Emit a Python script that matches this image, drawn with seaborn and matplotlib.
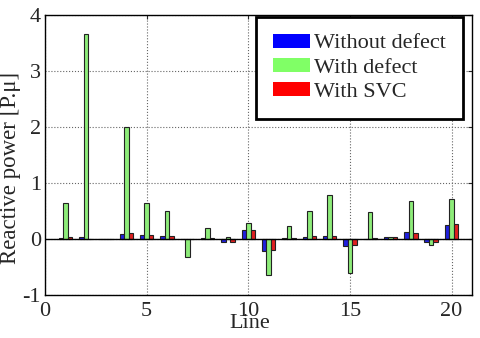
import matplotlib
matplotlib.use("Agg")
import matplotlib.pyplot as plt
import matplotlib.patches as mpatches
import pandas as pd
import seaborn as sns

lines = list(range(1, 21))
without_defect = [0.02, 0.03, 0.0, 0.09, 0.08, 0.05, 0.0, 0.01, -0.05, 0.16,
                  -0.22, 0.01, 0.04, 0.05, -0.13, 0.0, 0.03, 0.12, -0.05, 0.25]
with_defect = [0.64, 3.65, 0.0, 2.0, 0.64, 0.5, -0.32, 0.2, 0.04, 0.28,
               -0.64, 0.24, 0.5, 0.78, -0.6, 0.48, 0.03, 0.67, -0.1, 0.72]
with_svc = [0.03, 0.0, 0.0, 0.1, 0.07, 0.05, 0.0, 0.01, -0.05, 0.16,
            -0.2, 0.01, 0.05, 0.05, -0.1, 0.01, 0.03, 0.1, -0.06, 0.26]
series = ["Without defect", "With defect", "With SVC"]
colors = ["#0000ff", "#80ff66", "#ff0000"]

df = pd.DataFrame({
    "Line": lines * 3,
    "Q": without_defect + with_defect + with_svc,
    "Case": [s for s in series for _ in lines],
})

sns.set_style("white")
plt.rcParams["font.family"] = ["Liberation Serif", "DejaVu Serif"]
plt.rcParams["axes.unicode_minus"] = False

fig = plt.figure(figsize=(4.8, 3.38), dpi=100)
ax = fig.add_axes([0.094, 0.127, 0.889, 0.829])

sns.barplot(data=df, x="Line", y="Q", hue="Case", palette=colors,
            native_scale=True, width=0.66, edgecolor="#222222", linewidth=0.8,
            legend=False, ax=ax, zorder=3)

ax.axhline(0, color="black", linewidth=1.0, zorder=4)
ax.set_xlim(0, 21)
ax.set_ylim(-1, 4)
ax.set_xticks([0, 5, 10, 15, 20])
ax.set_yticks([-1, 0, 1, 2, 3, 4])
ax.grid(True, linestyle=":", color="#666666", linewidth=0.8, zorder=0)
ax.tick_params(axis="both", direction="in", labelsize=16, length=3,
               top=True, right=True)
ax.tick_params(axis="x", pad=5)
ax.tick_params(axis="y", pad=3)
for sp in ax.spines.values():
    sp.set_color("black")
    sp.set_linewidth(1.0)

ax.set_xlabel("Line", fontsize=16)
ax.xaxis.set_label_coords(0.48, -0.068)
ax.set_ylabel("Reactive power [P.μ]", fontsize=16.5)
ax.yaxis.set_label_coords(-0.056, 0.454)

handles = [mpatches.Patch(facecolor=c, edgecolor="none", label=s)
           for c, s in zip(colors, series)]
leg = ax.legend(handles=handles, loc="upper right", fontsize=16,
                frameon=True, fancybox=False, handlelength=1.7, handleheight=0.6,
                handletextpad=0.18, labelspacing=0.2, borderpad=0.75,
                borderaxespad=0, bbox_to_anchor=(0.979, 0.993))
leg.get_frame().set_edgecolor("black")
leg.get_frame().set_linewidth(2)
leg.get_frame().set_alpha(1)

fig.savefig("out.png", dpi=100)
